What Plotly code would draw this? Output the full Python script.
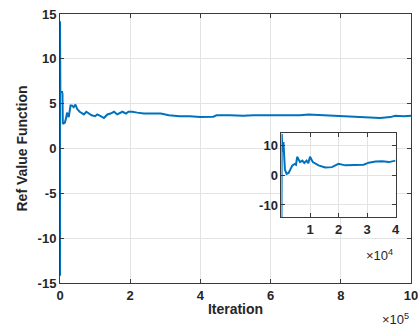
import plotly.graph_objects as go

# ---- main series (iteration, value) ----
main_iter = [0, 0, 1000, 6000, 7000, 8000, 14000, 18000, 20000, 25000, 30000, 34000, 39000, 44000,
             49000, 56000, 61000, 68000, 75000, 82000, 90000, 100000, 106000, 116000, 125000,
             135000, 144000, 154000, 163000, 178000, 188000, 195000, 206000, 220000, 239000,
             263000, 287000, 310000, 341000, 370000, 399000, 437000, 446000, 484000, 522000,
             551000, 589000, 627000, 656000, 684000, 708000, 732000, 760000, 798000, 836000,
             874000, 912000, 941000, 955000, 979000, 1000000]
main_val = [-14.2, 14.2, 6.3, 6.3, 6.1, 2.75, 2.9, 3.5, 4.0, 3.5, 4.8, 4.8, 4.6, 4.9,
            4.4, 4.1, 4.0, 3.8, 4.1, 3.9, 3.7, 3.6, 3.8, 3.6, 3.4,
            3.8, 3.9, 4.1, 3.8, 4.1, 3.9, 4.1, 4.1, 4.0, 3.9,
            3.9, 3.9, 3.7, 3.6, 3.6, 3.5, 3.55, 3.7, 3.7, 3.65,
            3.7, 3.7, 3.7, 3.68, 3.7, 3.8, 3.75, 3.7, 3.68, 3.57,
            3.46, 3.4, 3.5, 3.65, 3.6, 3.65]

# ---- inset series (first 4e4 iterations) ----
inset_iter = [0, 100, 300, 500, 700, 1200, 1800, 2500, 3200, 3800, 4700, 5100, 5500, 6000,
              6500, 7300, 8000, 8800, 9400, 10000, 11000, 13000, 15300, 17700, 20000, 22400,
              24700, 27100, 28800, 30600, 33000, 35300, 37700, 40000]
inset_val = [-14.2, 14.2, 8.0, 11.0, 11.0, 2.0, 0.5, 0.8, 2.5, 3.4, 3.9, 3.6, 6.3, 5.2,
             4.5, 5.0, 4.2, 5.0, 4.1, 6.3, 4.5, 3.4, 2.7, 2.8, 3.9, 3.4,
             3.4, 3.6, 3.6, 4.3, 4.7, 4.8, 4.5, 5.0]

main_xticks = [0, 200000, 400000, 600000, 800000, 1000000]
main_xtext = ["0", "2", "4", "6", "8", "10"]
main_yticks = [-15, -10, -5, 0, 5, 10, 15]
main_ytext = ["-15", "-10", "-5", "0", "5", "10", "15"]
inset_xticks = [10000, 20000, 30000, 40000]
inset_xtext = ["1", "2", "3", "4"]
inset_yticks = [-10, 0, 10]
inset_ytext = ["-10", "0", "10"]

LINE = "#0072BD"
TXT = "#262626"
AX = "#3a3a3a"
GRID = "#e3e3e3"
FONT = "Liberation Sans, Arial, sans-serif"

fig = go.Figure()
fig.add_trace(go.Scatter(x=main_iter, y=main_val, mode="lines",
                         line=dict(color=LINE, width=2), xaxis="x", yaxis="y",
                         showlegend=False))
fig.add_trace(go.Scatter(x=inset_iter, y=inset_val, mode="lines",
                         line=dict(color=LINE, width=2), xaxis="x2", yaxis="y2",
                         showlegend=False))

# white background for inset (covers main gridlines)
fig.add_shape(type="rect", xref="x2", yref="y2", x0=0, x1=40000, y0=-14.2, y1=14.2,
              fillcolor="white", line=dict(width=0), layer="below")

axis_common = dict(showline=True, linecolor=AX, linewidth=1, mirror="ticks",
                   ticks="inside", ticklen=4, tickcolor=AX, showgrid=True,
                   gridcolor=GRID, gridwidth=1, zeroline=False, automargin=False,
                   ticklabeloverflow="allow",
                   tickfont=dict(family=FONT, size=13, color=TXT, weight="bold"))

fig.update_layout(
    width=418, height=326,
    margin=dict(l=60, r=7, t=14, b=43),
    paper_bgcolor="white", plot_bgcolor="white",
    font=dict(family=FONT, color=TXT),
    xaxis=dict(domain=[0, 1], range=[0, 1000000], tickvals=main_xticks,
               ticktext=main_xtext, anchor="y",
               title=dict(text="Iteration", standoff=2,
                          font=dict(family=FONT, size=14, color=TXT, weight="bold")),
               **axis_common),
    yaxis=dict(domain=[0, 1], range=[-15, 15], tickvals=main_yticks,
               ticktext=main_ytext, anchor="x",
               title=dict(text="Ref Value Function", standoff=6,
                          font=dict(family=FONT, size=14, color=TXT, weight="bold")),
               **axis_common),
    xaxis2=dict(domain=[0.631, 0.956], range=[0, 40000], tickvals=inset_xticks,
                ticktext=inset_xtext, anchor="y2", **axis_common),
    yaxis2=dict(domain=[0.244, 0.556], range=[-14.2, 14.2], tickvals=inset_yticks,
                ticktext=inset_ytext, anchor="x2", **axis_common),
)

fig.add_annotation(xref="paper", yref="paper", x=1.0, y=-0.097, xanchor="right",
                   yanchor="top", showarrow=False,
                   text="×10<sup>5</sup>", font=dict(family=FONT, size=13, color=TXT))
fig.add_annotation(xref="paper", yref="paper", x=0.955, y=0.14, xanchor="right",
                   yanchor="top", showarrow=False,
                   text="×10<sup>4</sup>", font=dict(family=FONT, size=13, color=TXT))

fig.write_html("out.html", config={"displayModeBar": False},
               post_script="document.body.style.margin='0';")
